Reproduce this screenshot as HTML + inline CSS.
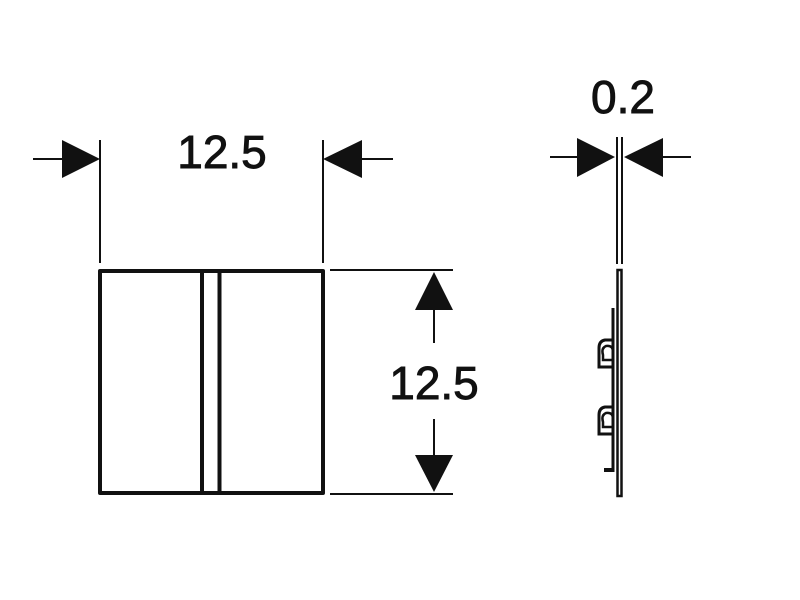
<!DOCTYPE html>
<html><head><meta charset="utf-8"><style>
html,body{margin:0;padding:0;background:#fff;}
svg{display:block}
text{font-family:"Liberation Sans",sans-serif;fill:#111;stroke:#111;stroke-width:0.9;}
</style></head><body>
<svg width="800" height="600" viewBox="0 0 800 600" xmlns="http://www.w3.org/2000/svg">
<g stroke="#111" fill="none">
 <rect x="100" y="271" width="223" height="222" stroke-width="4" stroke-linejoin="round"/>
 <line x1="202" y1="271" x2="202" y2="493" stroke-width="4"/>
 <line x1="219.5" y1="271" x2="219.5" y2="493" stroke-width="4"/>
 <line x1="100" y1="140" x2="100" y2="263" stroke-width="2"/>
 <line x1="323" y1="140" x2="323" y2="263" stroke-width="2"/>
 <line x1="33" y1="159" x2="65" y2="159" stroke-width="2"/>
 <line x1="360" y1="159" x2="393" y2="159" stroke-width="2"/>
 <line x1="330" y1="270" x2="453" y2="270" stroke-width="2"/>
 <line x1="330" y1="494" x2="453" y2="494" stroke-width="2"/>
 <line x1="434" y1="308" x2="434" y2="343" stroke-width="2"/>
 <line x1="434" y1="419" x2="434" y2="458" stroke-width="2"/>
 <line x1="617" y1="137" x2="617" y2="264" stroke-width="2"/>
 <line x1="622" y1="137" x2="622" y2="264" stroke-width="2"/>
 <line x1="550" y1="157" x2="580" y2="157" stroke-width="2"/>
 <line x1="660" y1="157" x2="691" y2="157" stroke-width="2"/>
 <rect x="617.5" y="270" width="4" height="226" stroke-width="2.5"/>
 <line x1="613" y1="308" x2="613" y2="472" stroke-width="3"/>
 <path d="M613 340 L605 340 Q599 341 599 348 L599 367 L613 367" stroke-width="3"/>
 <path d="M613 352 Q613 345 606 346 Q601 348 603 355 L603 360 L613 360" stroke-width="2.5"/>
 <path d="M613 407 L605 407 Q599 408 599 415 L599 434 L613 434" stroke-width="3"/>
 <path d="M613 419 Q613 412 606 413 Q601 415 603 422 L603 427 L613 427" stroke-width="2.5"/>
 <path d="M604 470 L613 470" stroke-width="4"/>
</g>
<g fill="#111">
 <polygon points="62,140 100,159 62,178"/>
 <polygon points="362,140 323,159 362,178"/>
 <polygon points="434,272 415,310 453,310"/>
 <polygon points="434,492 415,455 453,455"/>
 <polygon points="577,138 615,157 577,177"/>
 <polygon points="663,138 624,157 663,177"/>
</g>
<text x="222" y="168" font-size="46" text-anchor="middle">12.5</text>
<text x="434" y="399" font-size="46" text-anchor="middle">12.5</text>
<text x="623" y="113" font-size="46" text-anchor="middle">0.2</text>
</svg>
</body></html>
